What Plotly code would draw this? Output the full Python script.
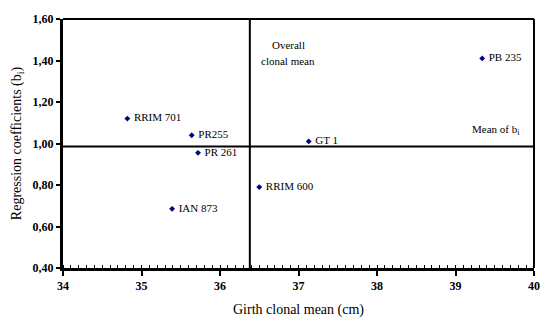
import plotly.graph_objects as go

# Clone girth means (cm) and regression coefficients (b_i)
clones = ["RRIM 701", "PR255", "PR 261", "IAN 873", "RRIM 600", "GT 1", "PB 235"]
girth_mean = [34.82, 35.64, 35.72, 35.39, 36.50, 37.13, 39.34]
reg_coef = [1.12, 1.04, 0.955, 0.685, 0.79, 1.01, 1.41]

overall_clonal_mean = 36.38
mean_bi = 0.985

x_ticks = [34, 35, 36, 37, 38, 39, 40]
y_ticks = [0.40, 0.60, 0.80, 1.00, 1.20, 1.40, 1.60]

serif = "Liberation Serif"

fig = go.Figure()
fig.add_trace(go.Scatter(
    x=girth_mean, y=reg_coef, mode="markers+text",
    text=clones, texttemplate=" %{text}", textposition="middle right",
    textfont=dict(family=serif, size=11, color="black"),
    marker=dict(symbol="diamond", size=4.5, color="#000080"),
    cliponaxis=False, hoverinfo="skip",
))

# Reference lines at the means
fig.add_shape(type="line", xref="x", yref="y", x0=overall_clonal_mean, x1=overall_clonal_mean,
              y0=0.40, y1=1.60, line=dict(color="black", width=2))
fig.add_shape(type="line", xref="x", yref="y", x0=34, x1=40, y0=mean_bi, y1=mean_bi,
              line=dict(color="black", width=2))

fig.add_annotation(x=36.87, y=1.475, xref="x", yref="y", text="Overall", showarrow=False,
                   xanchor="center", font=dict(family=serif, size=11, color="black"))
fig.add_annotation(x=36.86, y=1.40, xref="x", yref="y", text="clonal mean", showarrow=False,
                   xanchor="center", font=dict(family=serif, size=11, color="black"))
fig.add_annotation(x=39.83, y=1.065, xref="x", yref="y", text="Mean of b<sub>i</sub>", showarrow=False,
                   xanchor="right", font=dict(family=serif, size=11, color="black"))

fig.update_layout(
    width=541, height=320,
    margin=dict(l=63, r=7, t=19, b=52, autoexpand=False),
    paper_bgcolor="white", plot_bgcolor="white",
    showlegend=False,
    separators=",.",
    xaxis=dict(
        range=[34, 40], tickvals=x_ticks, ticks="outside", ticklen=5, tickwidth=2,
        tickcolor="black", showline=True, linecolor="black", linewidth=3, mirror=False,
        showgrid=False, zeroline=False, automargin=False,
        tickfont=dict(family=serif, size=12, color="black", weight="bold"),
        minor=dict(dtick=0.1, ticks="inside", ticklen=3, tickwidth=1, tickcolor="black", showgrid=False),
        title=dict(text="Girth clonal mean (cm)", font=dict(family=serif, size=14, color="black"), standoff=12),
    ),
    yaxis=dict(
        range=[0.40, 1.60], tickvals=y_ticks, tickformat=".2f", ticks="outside", ticklen=4,
        tickwidth=2, tickcolor="black", showline=True, linecolor="black", linewidth=3,
        showgrid=False, zeroline=False, automargin=False,
        tickfont=dict(family=serif, size=12, color="black", weight="bold"),
        title=dict(text="Regression coefficients (b<sub>i</sub>)", font=dict(family=serif, size=14, color="black"), standoff=8),
    ),
)

# Top and right frame
fig.add_shape(type="line", xref="paper", yref="paper", x0=0, x1=1, y0=1, y1=1,
              line=dict(color="black", width=2))
fig.add_shape(type="line", xref="paper", yref="paper", x0=1, x1=1, y0=0, y1=1,
              line=dict(color="black", width=2))

fig.write_html("out.html")
